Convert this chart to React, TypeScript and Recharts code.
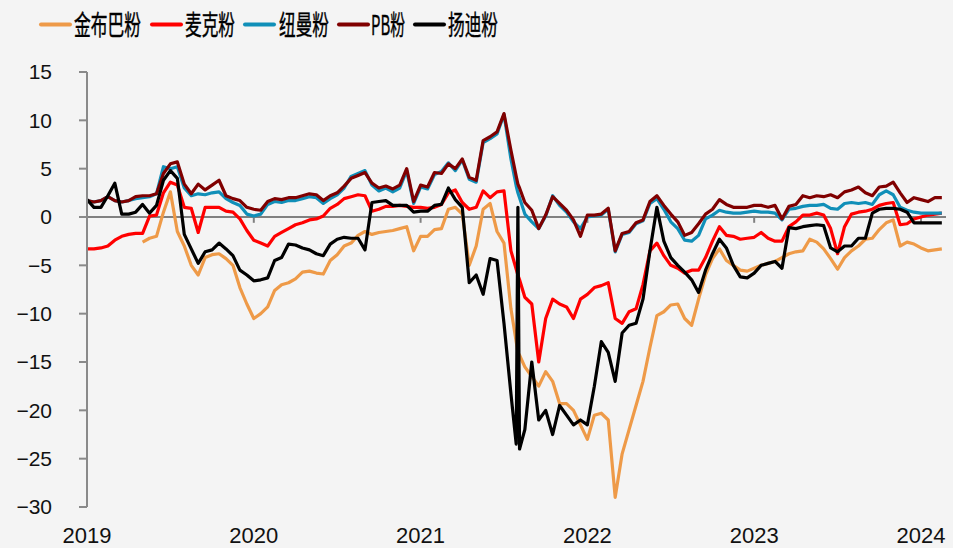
import React from "react";
import { LineChart, Line, XAxis, YAxis, ReferenceLine } from "recharts";

// x grid: half-month steps from 2019.0, plus two extra days around the 2021-07 spike
const baseSteps = 124;
const extraDates = [2021.5733, 2021.5933];
const dates: number[] = (() => {
  const d: number[] = [];
  for (let i = 0; i < baseSteps; i++) d.push(2019 + i / 24);
  return d.concat(extraDates).sort((a, b) => a - b);
})();

const yearTicks = [2019, 2020, 2021, 2022, 2023, 2024];
const valueTicks = [-30, -25, -20, -15, -10, -5, 0, 5, 10, 15];

const jinbuba: (number | null)[] = [
  null, null, null, null, null, null, null, null,
  -2.6, -2.2, -2.0, 0.5, 2.6, -1.5, -3.0, -5.0, -6.0, -4.2, -3.9, -3.8, -4.3, -5.0, -7.3, -9.0,
  -10.5, -10.0, -9.3, -7.6, -7.0, -6.8, -6.4, -5.7, -5.6, -5.8, -5.9, -4.5,
  -3.9, -3.0, -2.7, -1.9, -1.5, -1.8, -1.6, -1.5, -1.4, -1.2, -1.0, -3.5,
  -2.0, -2.0, -1.3, -1.2, 0.8, 1.0, 0.3, -5.0, -3.0, 0.8, 1.4, -1.5,
  -2.7, -9.5, -12.9, -14.0, -14.3, -15.5, -16.5, -17.5, -16.0, -17.0, -19.3, -19.3, -20.0, -21.5,
  -23.0, -20.5, -20.3, -21.0, -29.0, -24.5, -22.0, -19.5, -17.0, -13.5, -10.2, -9.8,
  -9.1, -9.0, -10.5, -11.2, -8.5, -6.0, -4.3, -3.3, -4.5, -5.0, -5.5, -5.6,
  -5.3, -5.0, -4.8, -4.6, -4.2, -3.8, -3.6, -3.5, -2.3, -2.6, -3.3, -4.3,
  -5.4, -4.2, -3.5, -3.0, -2.3, -2.2, -1.3, -0.6, -0.3, -3.0, -2.6, -2.8,
  -3.2, -3.5, -3.4, -3.3,
];

const maike: number[] = [
  -3.3, -3.3, -3.2, -3.0, -2.4, -2.0, -1.8, -1.7,
  -1.7, 0.1, 0.2, 2.5, 3.6, 3.3, 1.0, 0.9, -1.6, 1.0, 1.0, 1.0, 0.6, 0.5, -0.2, -1.4,
  -2.4, -2.7, -3.0, -2.0, -1.6, -1.2, -0.8, -0.6, -0.3, -0.2, 0.1, 0.9,
  1.3, 1.9, 2.1, 2.3, 2.2, 0.6, 0.8, 1.1, 1.1, 1.2, 1.1, 1.0,
  1.0, 0.9, 1.0, 1.3, 2.5, 2.8, 1.5, 0.8, 1.0, 2.7, 2.0, 2.6,
  2.7, -3.5, -5.4, -6.0, -6.5, -8.3, -9.0, -15.0, -10.5, -8.5, -9.0, -9.3, -10.5, -8.5,
  -8.0, -7.3, -7.1, -6.8, -10.5, -11.0, -9.8, -9.5, -7.0, -3.5, -2.7, -4.0,
  -5.0, -5.3, -5.8, -5.5, -5.5, -4.2, -2.5, -1.0, -1.9, -2.0, -2.3, -2.2,
  -2.1, -1.6, -2.2, -2.5, -2.5, -1.0, -0.5, 0.2, 0.2, 0.4, 0.2, -1.2,
  -3.8, -1.0, 0.3, 0.5, 0.6, 0.8, 1.2, 1.4, 1.5, -0.8, -0.7, -0.2,
  0.0, 0.2, 0.3, 0.4,
];

const niuman: number[] = [
  1.7, 1.55, 1.7, 2.1, 1.7, 1.55, 1.7, 1.9,
  2.0, 2.1, 2.4, 5.2, 5.0, 5.2, 3.0, 2.2, 2.4, 2.3, 2.5, 2.6, 1.9, 1.5, 1.2, 0.3,
  0.1, 0.3, 1.3, 1.6, 1.5, 1.7, 1.7, 1.9, 2.1, 2.0, 1.4, 1.9,
  2.3, 3.0, 4.2, 4.5, 4.8, 3.3, 2.7, 3.0, 2.6, 3.0, 4.8, 1.4,
  3.1, 2.9, 4.4, 4.7, 5.6, 4.8, 5.9, 3.9, 3.6, 7.7, 8.1, 8.6,
  10.6, 6.0, 3.2, 2.5, 2.0, 0.3, -0.5, -1.2, 0.1, 2.2, 1.2, 0.5, -0.5, -1.2,
  0.0, 0.1, 0.2, 0.8, -3.6, -1.8, -1.6, -0.7, -0.4, 1.4, 1.9, 0.8,
  -0.5, -1.2, -2.4, -2.5, -1.9, -0.2, 0.2, 0.7, 0.5, 0.4, 0.4, 0.5,
  0.6, 0.5, 0.5, 0.4, -0.3, 0.8, 0.9, 1.1, 1.2, 1.2, 1.3, 0.9,
  0.8, 1.4, 1.5, 1.4, 1.5, 1.3, 2.3, 2.7, 2.3, 1.0, 0.7, 0.5,
  0.4, 0.4, 0.4, 0.4,
];

const pb: number[] = [
  1.7, 1.55, 1.7, 2.1, 1.7, 1.55, 1.7, 2.1,
  2.2, 2.2, 2.4, 4.5, 5.5, 5.7, 3.4, 2.4, 3.4, 2.8, 3.3, 3.8, 2.2, 1.9, 1.7, 1.0,
  0.8, 0.7, 1.6, 1.9, 1.8, 2.0, 2.0, 2.2, 2.4, 2.3, 1.7, 2.2,
  2.5, 3.2, 4.0, 4.3, 4.6, 3.5, 3.0, 3.2, 2.9, 3.3, 5.0, 1.6,
  3.3, 3.1, 4.6, 4.5, 5.5, 5.0, 6.0, 4.1, 3.8, 7.9, 8.3, 8.8,
  10.7, 6.9, 4.2, 3.4, 3.0, 1.5, 0.7, -1.2, 0.2, 2.1, 1.4, 0.7, -0.3, -2.0,
  0.2, 0.2, 0.3, 0.9, -3.5, -1.7, -1.5, -0.6, -0.3, 1.6, 2.2, 1.2,
  0.3, -0.5, -1.9, -1.6, -0.7, 0.3, 0.8, 1.8, 1.3, 1.0, 1.0, 1.0,
  1.2, 1.2, 1.0, 1.2, -0.2, 1.1, 1.3, 2.2, 2.0, 2.2, 2.1, 2.3,
  2.0, 2.6, 2.8, 3.1, 2.5, 2.2, 3.1, 3.2, 3.6, 2.5, 1.5, 2.0,
  1.8, 1.6, 2.0, 2.0,
];

const yangdi: number[] = [
  1.8, 1.0, 1.0, 2.2, 3.5, 0.3, 0.3, 0.5,
  1.3, 0.4, 1.2, 3.8, 4.8, 4.0, -1.8, -3.3, -4.8, -3.6, -3.4, -2.7, -3.3, -4.0, -5.5, -6.0,
  -6.6, -6.5, -6.3, -4.5, -4.2, -2.8, -2.9, -3.2, -3.4, -3.8, -4.0, -2.8,
  -2.3, -2.1, -2.2, -2.2, -3.4, 1.5, 1.6, 1.7, 1.2, 1.2, 1.2, 0.5,
  0.6, 0.6, 1.2, 1.3, 3.0, 1.8, 1.0, -6.8, -6.0, -8.0, -4.3, -4.5,
  -11.0, -18.3, -23.5, 1.0, -24.0, -22.0, -15.0, -21.0, -20.0, -22.5, -19.5, -20.5, -21.5, -21.0,
  -21.5, -17.5, -12.9, -14.0, -17.0, -12.0, -11.2, -11.0, -8.5, -3.5, 1.0, -2.5,
  -4.2, -5.0, -5.7, -6.5, -7.8, -5.5, -3.8, -2.3, -3.2, -5.0, -6.2, -6.3,
  -5.8, -5.0, -4.8, -4.6, -5.3, -1.1, -1.2, -1.0, -0.9, -0.8, -0.9, -3.2,
  -3.6, -3.0, -3.0, -2.2, -2.2, 0.4, 0.8, 0.9, 0.9, 0.8, 0.5, -0.6,
  -0.6, -0.6, -0.6, -0.6,
];

const series = [
  { key: "jinbuba", name: "金布巴粉", color: "#EE9A48", values: jinbuba },
  { key: "maike", name: "麦克粉", color: "#FF0000", values: maike },
  { key: "niuman", name: "纽曼粉", color: "#108FB8", values: niuman },
  { key: "pb", name: "PB粉", color: "#800000", values: pb },
  { key: "yangdi", name: "扬迪粉", color: "#000000", values: yangdi },
];

const data = dates.map((t, i) => {
  const row: Record<string, number | null> = { t };
  series.forEach((s) => {
    row[s.key] = s.values[i] ?? null;
  });
  return row;
});

// legend layout (pixels)
const legendItems = [
  { lineX: 41, textX: 74, textLen: 67 },
  { lineX: 152, textX: 185, textLen: 50 },
  { lineX: 245, textX: 279, textLen: 50 },
  { lineX: 339, textX: 371, textLen: 34 },
  { lineX: 415, textX: 448, textLen: 50 },
];

const fmtVal = (v: number) => (v < 0 ? "\u2212" + Math.abs(v) : String(v));

export default function App() {
  return (
    <div
      style={{
        position: "absolute",
        left: 0,
        top: 0,
        width: 953,
        height: 548,
        background: "#f4f4f4",
        fontFamily: "'Liberation Sans', Arial, sans-serif",
      }}
    >
      <LineChart
        width={953}
        height={548}
        data={data}
        margin={{ top: 72, right: 7, left: 0, bottom: 0 }}
      >
        <XAxis
          dataKey="t"
          type="number"
          domain={[2019, 2024.15]}
          ticks={yearTicks}
          interval={0}
          allowDataOverflow
          axisLine={false}
          tickLine={false}
          tickSize={0}
          tickMargin={20}
          height={41}
          tick={{ fill: "#111", fontSize: 22, fontFamily: "'Liberation Sans', Arial, sans-serif" }}
          tickFormatter={(v: number) => String(Math.round(v))}
        />
        <YAxis
          type="number"
          domain={[-30, 15]}
          ticks={valueTicks}
          interval={0}
          width={87}
          axisLine={{ stroke: "#8a8a8a", strokeWidth: 2 }}
          tickLine={{ stroke: "#8a8a8a", strokeWidth: 2 }}
          tickSize={8}
          tickMargin={27}
          tick={{ fill: "#111", fontSize: 21, fontFamily: "'Liberation Sans', Arial, sans-serif" }}
          tickFormatter={fmtVal}
        />
        <ReferenceLine y={0} stroke="#808080" strokeWidth={2} />
        {yearTicks.slice(1).map((yr) => (
          <ReferenceLine
            key={yr}
            segment={[
              { x: yr, y: 0 },
              { x: yr, y: -0.6 },
            ]}
            stroke="#808080"
            strokeWidth={2}
            ifOverflow="visible"
          />
        ))}
        {series.map((s) => (
          <Line
            key={s.key}
            dataKey={s.key}
            name={s.name}
            stroke={s.color}
            strokeWidth={3.2}
            dot={false}
            activeDot={false}
            type="linear"
            isAnimationActive={false}
            connectNulls={false}
            strokeLinejoin="round"
          />
        ))}
      </LineChart>
      <svg
        width={953}
        height={60}
        style={{ position: "absolute", left: 0, top: 0, pointerEvents: "none" }}
      >
        {series.map((s, i) => {
          const it = legendItems[i];
          return (
            <g key={s.key}>
              <line x1={it.lineX} x2={it.lineX + 29} y1={24.5} y2={24.5} stroke={s.color} strokeWidth={4} strokeLinecap="round" />
              <text
                transform={`translate(${it.textX},35) scale(1,1.6)`}
                x={0}
                y={0}
                fontSize={17}
                fontFamily="'Noto Sans CJK SC', 'Noto Sans', sans-serif"
                fill="#000"
                stroke="#000"
                strokeWidth={0.25}
                textLength={it.textLen}
                lengthAdjust="spacingAndGlyphs"
              >
                {s.name}
              </text>
            </g>
          );
        })}
      </svg>
    </div>
  );
}
